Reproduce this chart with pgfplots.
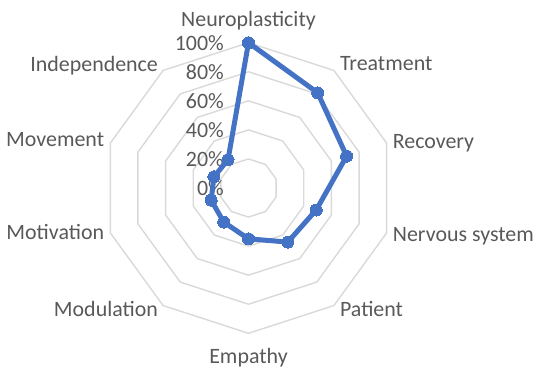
\documentclass[border=0pt]{standalone}
\usepackage{pgfplots}
\pgfplotsset{compat=1.18}
\usepgfplotslibrary{polar}
\usepackage{fontspec}
\setmainfont{Carlito}
\definecolor{gridc}{HTML}{D9D9D9}
\definecolor{txt}{HTML}{595959}
\definecolor{serie}{HTML}{4472C4}
\tikzset{lab/.style={font=\fontsize{22}{26}\selectfont, text=txt, inner sep=0pt}}
\begin{document}
\begin{tikzpicture}
\begin{polaraxis}[
  scale only axis, width=290.6bp, height=290.6bp,
  ymin=0, ymax=100, xmin=0, xmax=360,
  hide axis, clip=false,
]
\coordinate (c) at (axis cs:0,0);
% grid rings
\foreach \r in {20,40,60,80,100}{
  \edef\tmp{\noexpand\addplot[gridc, line width=1.4bp, no markers] coordinates {(90,\r)(54,\r)(18,\r)(342,\r)(306,\r)(270,\r)(234,\r)(198,\r)(162,\r)(126,\r)(90,\r)};}
  \tmp
}
% radial labels
\node[lab, anchor=base east, xshift=-24.5bp, yshift=-7.5bp] at (axis cs:90,0) {0\%};
\node[lab, anchor=base east, xshift=-24.5bp, yshift=-7.5bp] at (axis cs:90,20) {20\%};
\node[lab, anchor=base east, xshift=-24.5bp, yshift=-7.5bp] at (axis cs:90,40) {40\%};
\node[lab, anchor=base east, xshift=-24.5bp, yshift=-7.5bp] at (axis cs:90,60) {60\%};
\node[lab, anchor=base east, xshift=-24.5bp, yshift=-7.5bp] at (axis cs:90,80) {80\%};
\node[lab, anchor=base east, xshift=-24.5bp, yshift=-7.5bp] at (axis cs:90,100) {100\%};
% category labels
\node[lab, anchor=base, yshift=15.7bp] at (axis cs:90,100) {Neuroplasticity};
\node[lab, anchor=base west, xshift=6bp, yshift=0bp] at (axis cs:54,100) {Treatment};
\node[lab, anchor=base west, xshift=6bp, yshift=-5bp] at (axis cs:18,100) {Recovery};
\node[lab, anchor=base west, xshift=6bp, yshift=-9bp] at (axis cs:342,100) {Nervous system};
\node[lab, anchor=base west, xshift=6bp, yshift=-11bp] at (axis cs:306,100) {Patient};
\node[lab, anchor=base, yshift=-30bp] at (axis cs:270,100) {Empathy};
\node[lab, anchor=base east, xshift=-5bp, yshift=-11bp] at (axis cs:234,100) {Modulation};
\node[lab, anchor=base east, xshift=-6bp, yshift=-7bp] at (axis cs:198,100) {Motivation};
\node[lab, anchor=base east, xshift=-6bp, yshift=-3.6bp] at (axis cs:162,100) {Movement};
\node[lab, anchor=base east, xshift=-5bp, yshift=-1bp] at (axis cs:126,100) {Independence};
% data
\addplot[serie, line width=5bp, line join=round, mark=*, mark size=6bp, mark options={fill=serie, draw=serie, line width=0bp}]
  coordinates {(90,100)(54,81)(18,71)(342,49)(306,46)(270,35)(234,29)(198,27)(162,25)(126,24)(90,100)};
\end{polaraxis}
\pgfresetboundingbox
\path ([shift={(-248.5bp,188bp)}]c) rectangle ([shift={(301.5bp,-189bp)}]c);
\end{tikzpicture}
\end{document}
